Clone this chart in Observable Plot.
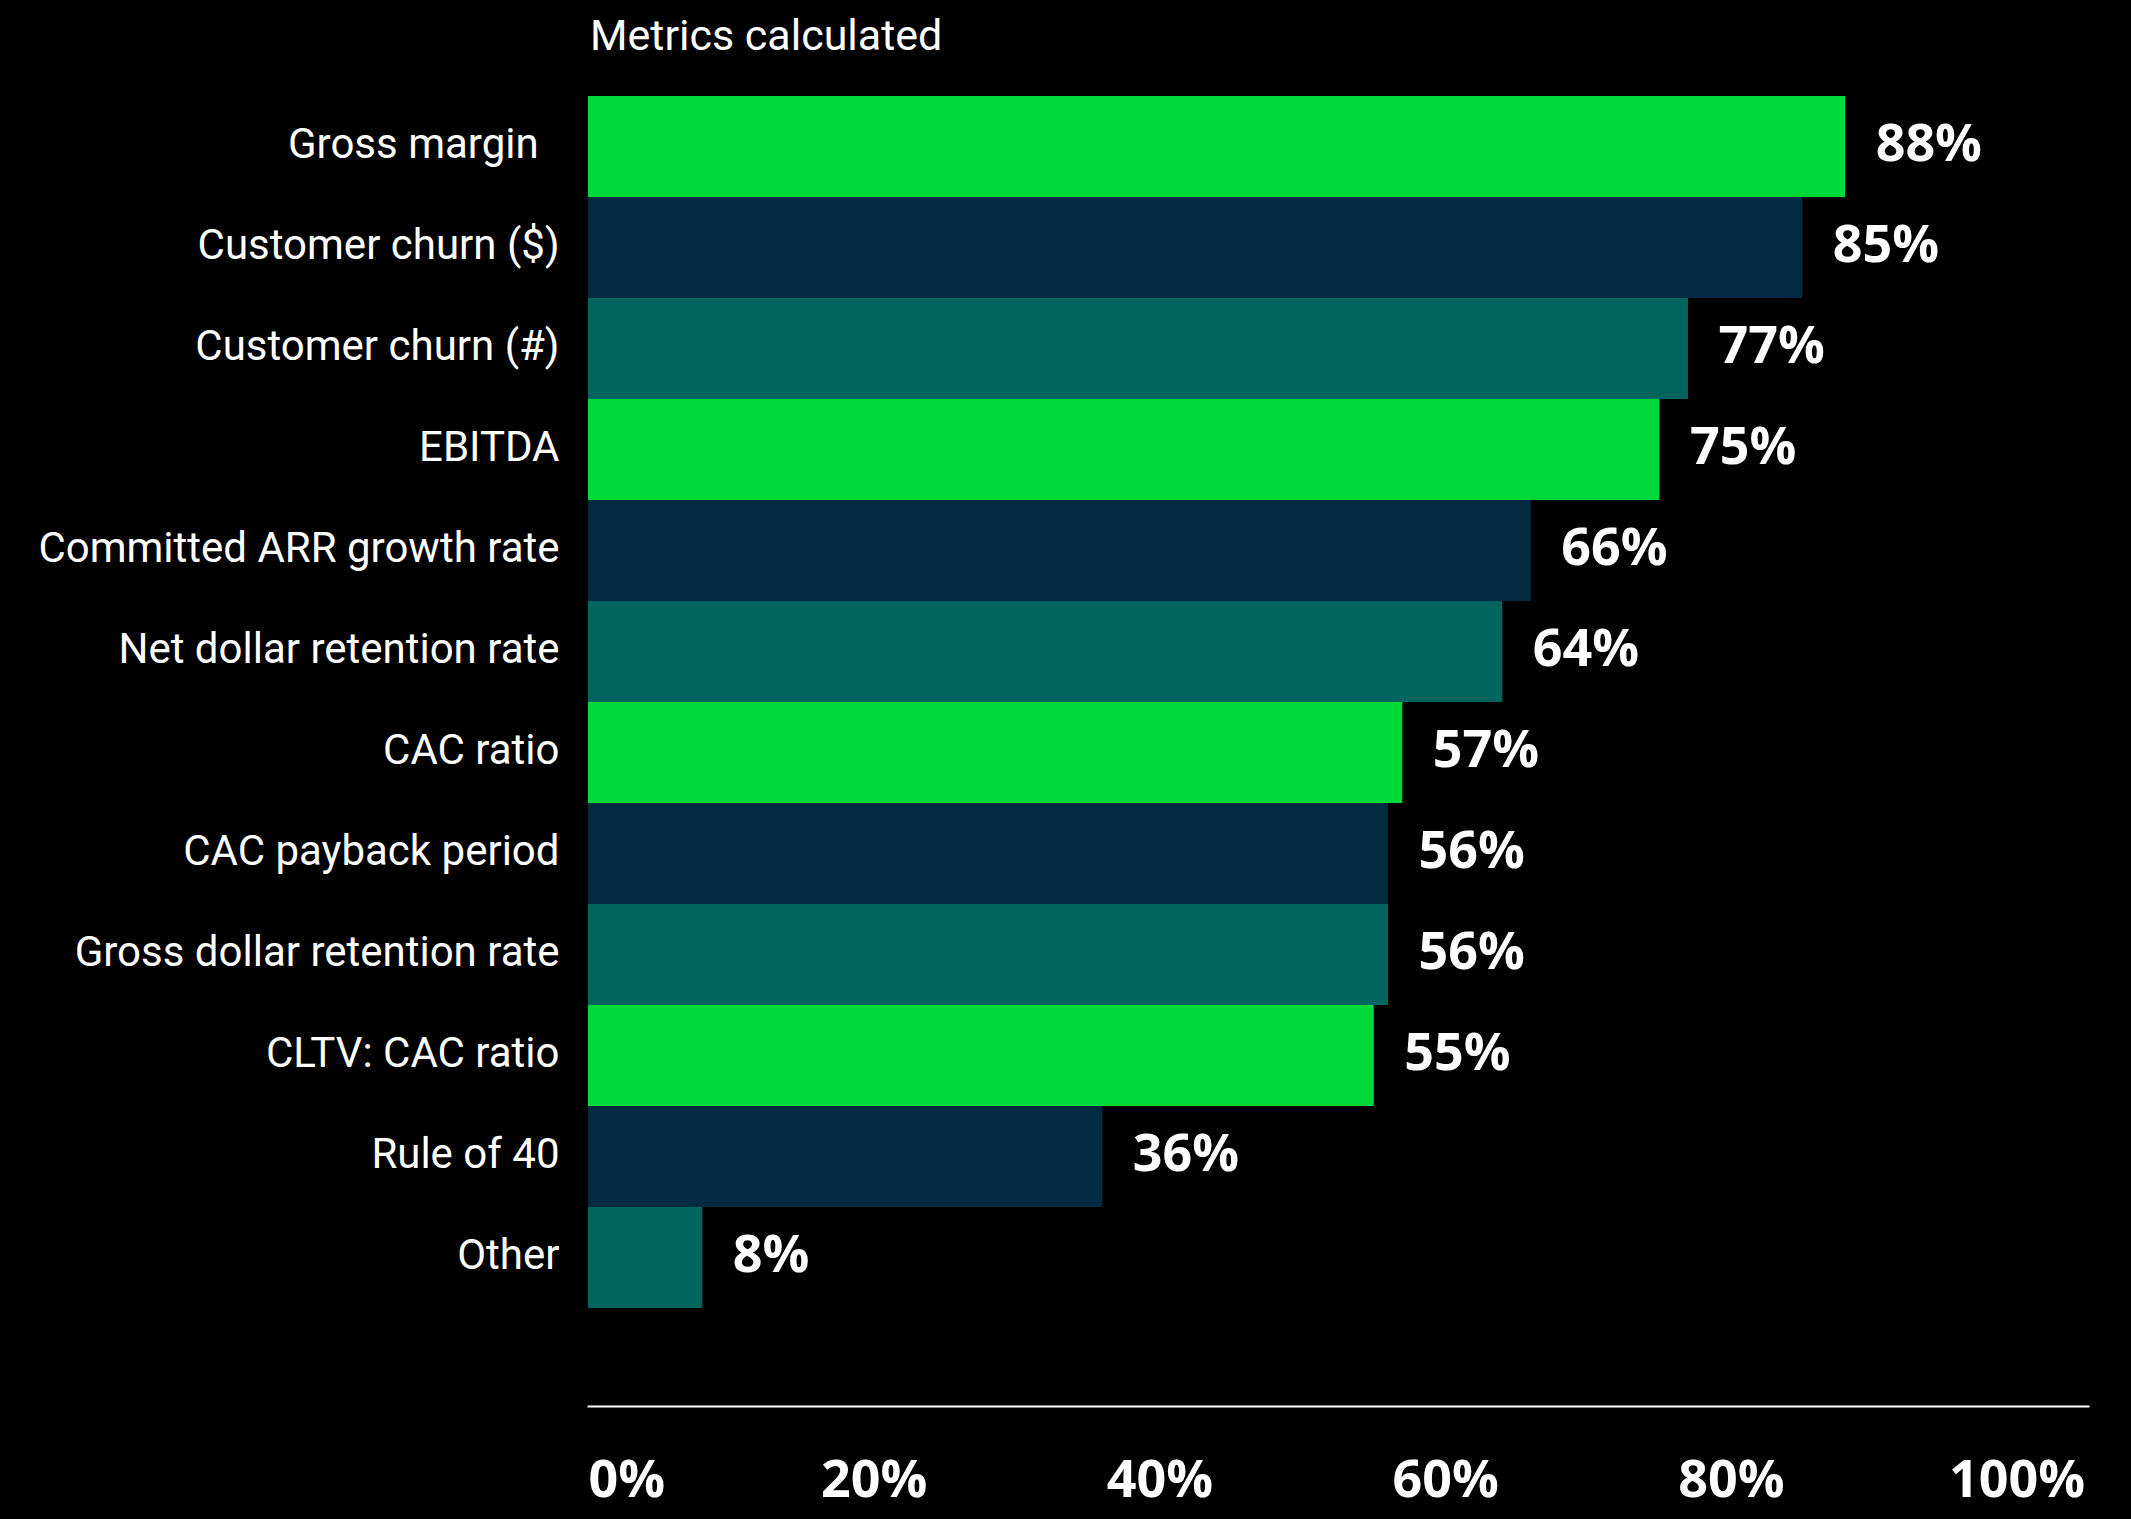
<!DOCTYPE html>
<html>
<head>
<meta charset="utf-8">
<script src="https://cdn.jsdelivr.net/npm/d3@7"></script>
<script src="https://cdn.jsdelivr.net/npm/@observablehq/plot@0.6"></script>
<style>
  html, body { margin: 0; padding: 0; background: #000; }
  #wrap { width: 2131px; height: 1519px; overflow: hidden; background: #000; position: relative; }
  #title { height: 70px; line-height: 70px; padding-left: 590px; color: #fff;
           font-family: Roboto, "Noto Sans", sans-serif; font-size: 43px; }
  svg { display: block; }
</style>
</head>
<body>
<div id="wrap">
  <div id="title">Metrics calculated</div>
  <div id="chart"></div>
</div>
<script>
const categories = [
  "Gross margin\u00a0\u00a0",
  "Customer churn ($)",
  "Customer churn (#)",
  "EBITDA",
  "Committed ARR growth rate",
  "Net dollar retention rate",
  "CAC ratio",
  "CAC payback period",
  "Gross dollar retention rate",
  "CLTV: CAC ratio",
  "Rule of 40",
  "Other"
];
const values = [88, 85, 77, 75, 66, 64, 57, 56, 56, 55, 36, 8];
const tickValues = [0, 20, 40, 60, 80, 100];
const palette = ["#00D93A", "#022A40", "#00645F"];

const data = categories.map((c, i) => ({category: c, value: values[i], tone: i % 3}));

const W = 2131, H = 1449;
const chart = Plot.plot({
  width: W,
  height: H,
  marginLeft: 588,
  marginRight: 43,
  marginTop: 25,
  marginBottom: 113,
  style: {background: "#000", color: "#fff"},
  x: {domain: [0, 105], axis: null},
  y: {domain: categories, range: [25, 1238], padding: 0, axis: null},
  color: {domain: [0, 1, 2], range: palette},
  marks: [
    Plot.barX(data, {y: "category", x: "value", fill: "tone"}),
    Plot.text(data, {
      y: "category", x: "value", text: d => d.value + "%",
      textAnchor: "start", dx: 30, dy: -3, fill: "#fff",
      fontSize: 52, fontWeight: 700, fontFamily: "'Open Sans', sans-serif"
    }),
    Plot.text(data, {
      y: "category", text: "category", frameAnchor: "left",
      textAnchor: "end", dx: -29, dy: -2, fill: "#fff",
      fontSize: 42, fontFamily: "Roboto, 'Noto Sans', sans-serif"
    }),
    Plot.frame({anchor: "bottom", stroke: "#fff", strokeWidth: 2}),
    Plot.text(tickValues.filter(t => t === 0), {
      x: d => d, text: d => d + "%", frameAnchor: "bottom", dy: 90,
      textAnchor: "start", fill: "#fff",
      fontSize: 52, fontWeight: 700, fontFamily: "'Open Sans', sans-serif"
    }),
    Plot.text(tickValues.filter(t => t !== 0), {
      x: d => d, text: d => d + "%", frameAnchor: "bottom", dy: 90,
      textAnchor: "middle", fill: "#fff",
      fontSize: 52, fontWeight: 700, fontFamily: "'Open Sans', sans-serif"
    })
  ]
});
document.getElementById("chart").appendChild(chart);
</script>
</body>
</html>
